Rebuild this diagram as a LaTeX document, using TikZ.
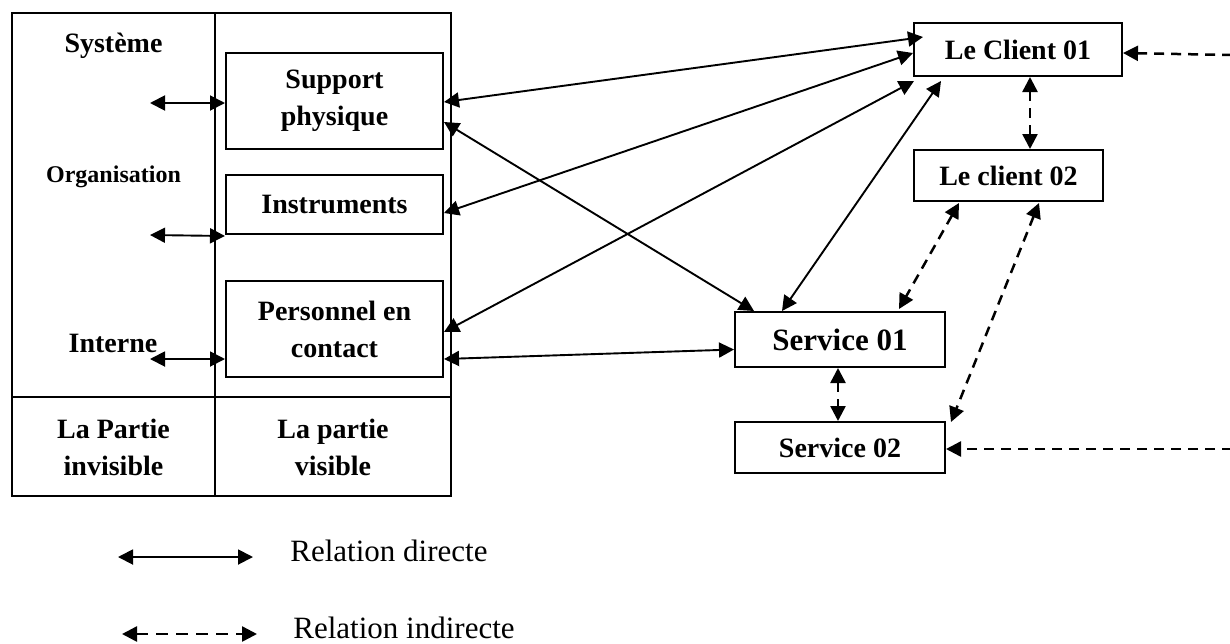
\documentclass[tikz,border=0pt]{standalone}
\usepackage{fontspec}
\setmainfont{Liberation Serif}
\usetikzlibrary{arrows.meta,calc}
\begin{document}
\begin{tikzpicture}[x=0.5pt,y=-0.5pt,
  box/.style={draw,line width=1pt,inner sep=0pt,align=center,font=\bfseries\fontsize{14}{18.5}\selectfont},
  lbl/.style={inner sep=0pt,align=center,font=\bfseries\fontsize{14}{18.5}\selectfont},
  leg/.style={inner sep=0pt,font=\fontsize{15.5}{18}\selectfont},
  rel/.style={line width=0.95pt,{Triangle[length=7.5pt,width=7.5pt]}-{Triangle[length=7.5pt,width=7.5pt]}},
  irel/.style={line width=1.25pt,dash pattern=on 5pt off 3.5pt,{Triangle[length=7.5pt,width=7.5pt]}-{Triangle[length=7.5pt,width=7.5pt]}},
  irelone/.style={line width=1.25pt,dash pattern=on 5pt off 3.5pt,-{Triangle[length=7.5pt,width=7.5pt]}}]
\useasboundingbox (0,0) rectangle (1230,643);
% frame
\draw[line width=1pt] (12,13) rectangle (451,496);
\draw[line width=1pt] (215,13) -- (215,496);
\draw[line width=1pt] (12,397) -- (451,397);
% left column labels
\node[lbl,anchor=base] (sys) at (113.5,52) {Système};
\node[lbl,anchor=base,font=\bfseries\fontsize{12}{14}\selectfont] (org) at (113.5,182) {Organisation};
\node[lbl,anchor=base] (int) at (113,352) {Interne};
\node[lbl] (inv) at (113.5,447) {La Partie\\invisible};
\node[lbl] (vis) at (333,447) {La partie\\visible};
% boxes
\node[box,minimum width=108.5pt,minimum height=48pt] (sp) at (334.5,101) {Support\\physique};
\node[box,minimum width=108.5pt,minimum height=29.5pt] (in) at (334.5,204.5) {Instruments};
\node[box,minimum width=108.5pt,minimum height=48pt] (pe) at (334.5,329) {Personnel en\\contact};
\node[box,minimum width=104pt,minimum height=26.5pt] (c1) at (1018,49.5) {Le Client 01};
\node[box,minimum width=94.5pt,minimum height=25.5pt] (c2) at (1008.5,175.5) {Le client 02};
\node[box,minimum width=105pt,minimum height=27.5pt,font=\bfseries\fontsize{15.5}{18}\selectfont] (s1) at (840,339.5) {Service 01};
\node[box,minimum width=105pt,minimum height=25.5pt] (s2) at (840,447.5) {Service 02};
% free ends
\coordinate (a1) at (150,103);
\coordinate (a2) at (150,235);
\coordinate (a3) at (150,359);
\coordinate (r1) at (1232,55);
\coordinate (r2) at (1232,449);
% left arrows
\draw[rel] (a1) -- ($(sp.west)+(0,2)$);
\draw[rel] (a2) -- ($(in.south west)+(0,1)$);
\draw[rel] (a3) -- ($(pe.west)+(0,30)$);
% direct relations
\draw[rel] ($(sp.east)+(0,1)$) -- ($(c1.north west)+(10,15)$);
\draw[rel] ($(sp.east)+(0,21)$) -- ($(s1.north west)+(20,0)$);
\draw[rel] ($(in.east)+(0,8.5)$) -- ($(c1.west)+(0,3.5)$);
\draw[rel] ($(pe.east)+(0,3)$) -- ($(c1.south west)+(1,4)$);
\draw[rel] ($(pe.east)+(0,30)$) -- ($(s1.west)+(0,10)$);
\draw[rel] ($(s1.north west)+(48,0)$) -- ($(c1.south west)+(28,4)$);
% indirect relations
\draw[irel] ($(c1.south)+(12,0)$) -- ($(c2.north)+(21.5,0)$);
\draw[irel] ($(c2.south west)+(46,1)$) -- ($(s1.north west)+(165,-2)$);
\draw[irel] ($(c2.south west)+(126,1)$) -- ($(s2.north east)+(5,1)$);
\draw[irel] ($(s1.south)+(-2,0)$) -- ($(s2.north)+(-2,0)$);
\draw[irelone] (r1) -- ($(c1.east)+(0,3.5)$);
\draw[irelone] (r2) -- ($(s2.east)+(0,1.5)$);
% legend
\coordinate (l1a) at (118,557);
\coordinate (l1b) at (253,557);
\coordinate (l2a) at (122,634);
\coordinate (l2b) at (257,634);
\draw[rel] (l1a) -- (l1b);
\draw[irel,dash pattern=on 6pt off 4pt] (l2a) -- (l2b);
\node[leg,anchor=base west] (t1) at (290,561) {Relation directe};
\node[leg,anchor=base west] (t2) at (293,638) {Relation indirecte};
\end{tikzpicture}
\end{document}
